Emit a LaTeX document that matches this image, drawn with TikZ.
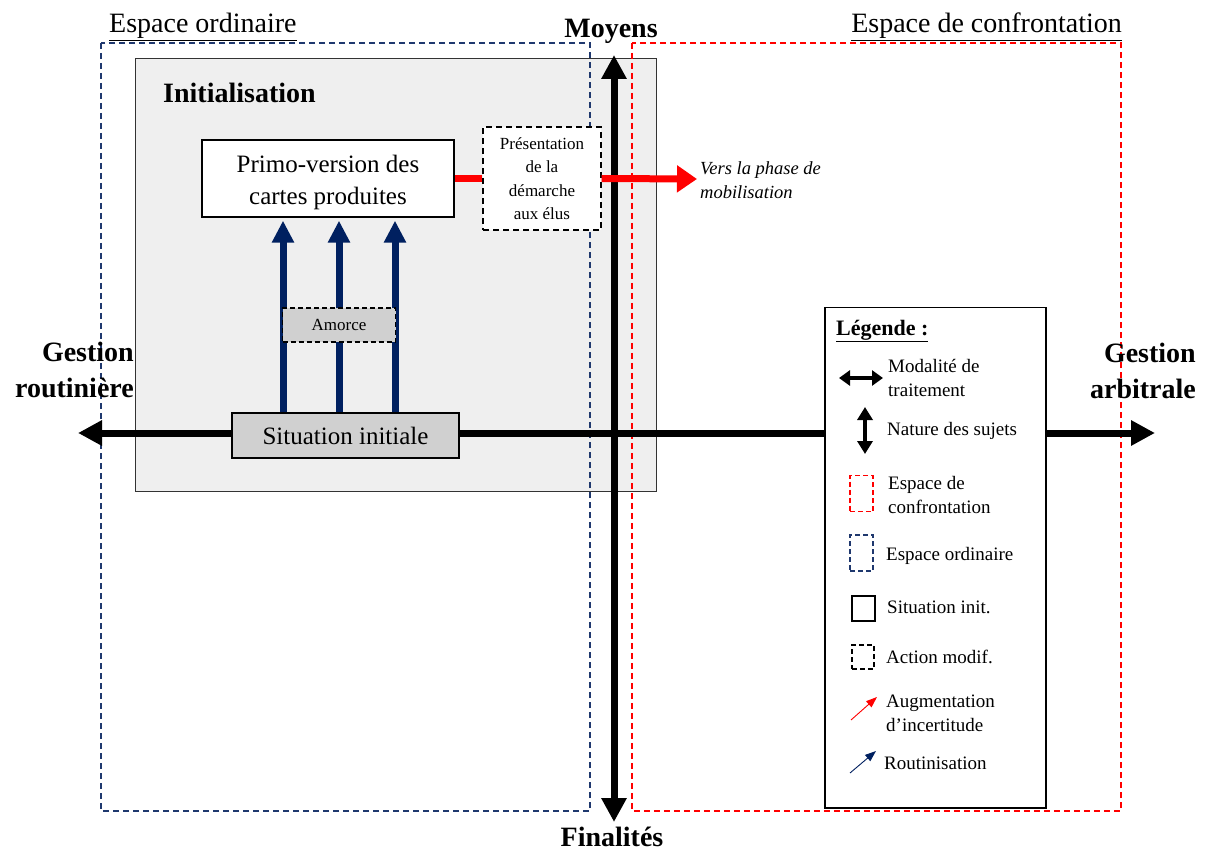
\documentclass[tikz,border=0pt]{standalone}
\usepackage{fontspec}
\setmainfont{Liberation Serif}
\usetikzlibrary{arrows.meta}
\definecolor{navy}{RGB}{0,32,96}
\definecolor{boxgray}{RGB}{239,239,239}
\definecolor{sitgray}{RGB}{208,208,208}
\definecolor{dashblue}{RGB}{31,56,110}
\definecolor{pured}{RGB}{255,0,0}
\tikzset{
  space/.style={dashed, line width=1.2pt, dash pattern=on 6pt off 4pt},
  axisline/.style={line width=7pt, black},
  bothtip/.style={{Triangle[width=24pt,length=24pt]}-{Triangle[width=24pt,length=24pt]}},
  navyarr/.style={line width=7pt, navy, -{Triangle[width=21pt,length=22pt]}},
  redarr/.style={line width=7pt, pured},
  hdr/.style={font=\fontsize{28}{34}\selectfont},
  hdrb/.style={font=\fontsize{28}{36}\selectfont\bfseries},
  boxtxt/.style={font=\fontsize{25}{32}\selectfont, align=center},
  smalltxt/.style={font=\fontsize{17}{23.5}\selectfont, align=center},
  legtxt/.style={font=\fontsize{19}{24}\selectfont, align=left, anchor=west, inner sep=0pt},
  legbox/.style={minimum width=23pt, minimum height=36pt, inner sep=0pt, line width=1.2pt},
}
\begin{document}
\begin{tikzpicture}[x=1pt,y=-1pt]
\useasboundingbox (0,0) rectangle (1205,850);
\fill[white] (0,0) rectangle (1205,850);

% Initialisation panel
\node[draw=black!80, fill=boxgray, line width=1.3pt, minimum width=521pt, minimum height=433pt, anchor=north west, inner sep=0pt] (init) at (135,58) {};
\node[hdrb, anchor=base west, inner sep=0pt] (inittitle) at (163,103) {Initialisation};

% spaces
\draw[space, dashblue] (101,43) rectangle (590,811);
\draw[space, pured] (632,43) rectangle (1121,811);
\node[hdr, anchor=base west, inner sep=0pt] (ordlab) at (109,33) {\underline{Espace ordinaire}};
\node[hdr, anchor=base east, inner sep=0pt] (conflab) at (1122,33) {\underline{Espace de confrontation}};

% axes
\coordinate (hl) at (78,433);
\coordinate (hr) at (1155,433);
\coordinate (vt) at (614,55);
\coordinate (vb) at (614,822);
\draw[axisline, bothtip] (hl) -- (hr);
\draw[axisline, bothtip] (vt) -- (vb);
\node[hdrb, anchor=base, inner sep=0pt] (moyens) at (611,38) {Moyens};
\node[hdrb, anchor=base, inner sep=0pt] (finalites) at (612,846) {Finalités};
\node[hdrb, align=right, anchor=east, inner sep=0pt] (groutine) at (134,370) {Gestion\\routinière};
\node[hdrb, align=right, anchor=east, inner sep=0pt] (garbitre) at (1196,371) {Gestion\\arbitrale};

% boxes
\node[draw, fill=white, line width=1.3pt, minimum width=252pt, minimum height=77pt, inner sep=0pt] (primo) at (328,178.5) {};
\node[boxtxt, inner sep=0pt] (primotxt) at (328,182) {Primo-version des\\cartes produites};
\node[draw, dashed, dash pattern=on 6pt off 4pt, fill=white, line width=1.3pt, minimum width=118pt, minimum height=103pt, smalltxt, inner sep=0pt] (pres) at (542,178.5) {Présentation\\de la\\démarche\\aux élus};
\node[draw, fill=sitgray, line width=1.3pt, minimum width=227pt, minimum height=45pt, boxtxt, inner sep=0pt] (sit) at (345.5,435.5) {Situation initiale};

% navy arrows
\draw[navyarr] ([xshift=-62.5pt]sit.north) -- ([xshift=-45pt, yshift=-3pt]primo.south);
\draw[navyarr] ([xshift=-6.5pt]sit.north) -- ([xshift=11pt, yshift=-3pt]primo.south);
\draw[navyarr] ([xshift=49.5pt]sit.north) -- ([xshift=67pt, yshift=-3pt]primo.south);
\node[draw, dashed, dash pattern=on 5pt off 3pt, fill=sitgray, line width=1.3pt, minimum width=113pt, minimum height=34pt, smalltxt, inner sep=0pt] (amorce) at (339,325) {Amorce};

% red connectors
\coordinate (versend) at (697,179);
\draw[redarr] (primo.east) -- (pres.west);
\draw[redarr, -{Triangle[width=26pt,length=20pt]}] (pres.east) -- (versend);
\node[font=\fontsize{18.5}{24}\selectfont\itshape, align=left, anchor=west, inner sep=0pt] (vers) at (700,180) {Vers la phase de\\mobilisation};

% legend
\node[draw, fill=white, line width=1.5pt, minimum width=221pt, minimum height=500pt, anchor=north west, inner sep=0pt] (legend) at (824,307) {};
\node[font=\fontsize{22}{24}\selectfont\bfseries, anchor=base west, inner sep=0pt] (legtitle) at (836,335) {\underline{Légende :}};

\coordinate (lh1) at (839,378);
\coordinate (lh2) at (883,378);
\draw[line width=4pt, {Triangle[width=15pt,length=11pt]}-{Triangle[width=15pt,length=11pt]}] (lh1) -- (lh2);
\node[legtxt] (t1) at (888,378) {Modalité de\\traitement};

\coordinate (lv1) at (865,407);
\coordinate (lv2) at (865,454);
\draw[line width=4pt, {Triangle[width=15pt,length=13pt]}-{Triangle[width=15pt,length=13pt]}] (lv1) -- (lv2);
\node[legtxt] (t2) at (887,431) {Nature des sujets};

\node[legbox, draw=pured, dashed, dash pattern=on 5pt off 3pt] (k3) at (861.5,493.5) {};
\node[legtxt] (t3) at (888,495) {Espace de\\confrontation};

\node[legbox, draw=dashblue, dashed, dash pattern=on 5pt off 3pt] (k4) at (861.5,553) {};
\node[legtxt] (t4) at (886,556) {Espace ordinaire};

\node[legbox, draw=black, minimum height=25pt] (k5) at (863.5,608.5) {};
\node[legtxt] (t5) at (887,607) {Situation init.};

\node[legbox, draw=black, dashed, dash pattern=on 5pt off 3pt, minimum width=22pt, minimum height=24pt] (k6) at (863,657) {};
\node[legtxt] (t6) at (886,657) {Action modif.};

\coordinate (r1) at (851,720);
\coordinate (r2) at (877,697);
\draw[pured, line width=0.9pt, -{Triangle[width=8pt,length=11pt]}] (r1) -- (r2);
\node[legtxt] (t7) at (886,713) {Augmentation\\d’incertitude};

\coordinate (n1) at (850,773);
\coordinate (n2) at (876,751);
\draw[navy, line width=0.9pt, -{Triangle[width=8pt,length=11pt]}] (n1) -- (n2);
\node[legtxt] (t8) at (884,763) {Routinisation};
\end{tikzpicture}
\end{document}
